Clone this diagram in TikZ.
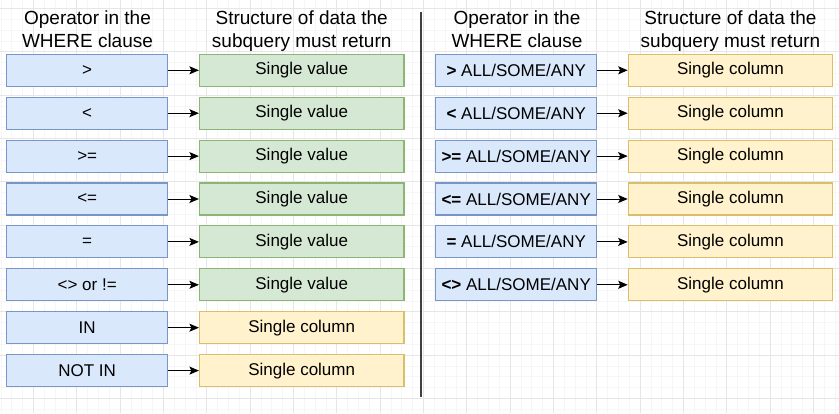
\documentclass[tikz,border=0pt]{standalone}
\usepackage{fontspec}
\setmainfont{Liberation Sans}
\usetikzlibrary{arrows.meta}
\definecolor{opfill}{RGB}{218,232,252}
\definecolor{opline}{RGB}{120,150,200}
\definecolor{valfill}{RGB}{213,232,212}
\definecolor{valline}{RGB}{140,180,115}
\definecolor{colfill}{RGB}{255,242,204}
\definecolor{colline}{RGB}{218,190,105}
\definecolor{gridminor}{RGB}{246,246,246}
\definecolor{gridmajor}{RGB}{230,230,230}
\newcommand{\drawbggrid}{
    \foreach \x in {0,...,77}{
    \draw[gridminor] (\x*10.833+0.8,0)--(\x*10.833+0.8,413);
    }
    \foreach \y in {0,...,38}{
      \draw[gridminor] (0,\y*10.833+8.3)--(839,\y*10.833+8.3);
    }
    \foreach \x in {0,...,19}{
    \draw[gridmajor] (\x*43.333+33.3,0)--(\x*43.333+33.3,413);
    }
    \foreach \y in {0,...,9}{
      \draw[gridmajor] (0,\y*43.333+8.3)--(839,\y*43.333+8.3);
    }
}
\newcommand{\rowy}[1]{70.3+(#1-1)*42.9}

\begin{document}
\begin{tikzpicture}[x=1pt,y=-1pt,
    box/.style={line width=1.1pt, minimum height=32pt, inner sep=0pt, font=\fontsize{17}{20}\selectfont},
    opbox/.style={box, draw=opline, fill=opfill, minimum width=161pt},
    valbox/.style={box, draw=valline, fill=valfill, minimum width=204.5pt},
    colbox/.style={box, draw=colline, fill=colfill, minimum width=204.5pt},
    head/.style={anchor=north, inner sep=0pt, align=center, font=\fontsize{19}{22.4}\selectfont},
    conn/.style={-{Stealth[length=9.5pt,width=8pt,inset=2pt]}, line width=1pt}]
\useasboundingbox (0,0) rectangle (839,413);
\fill[white] (0,0) rectangle (839,413);
\drawbggrid
% left half
\node[head] (lhead) at (87.5,11) {Operator in the\\WHERE clause};
\node[head] (lres) at (301.7,11) {Structure of data the\\subquery must return};
\foreach \opr [count=\i] in {{>},{<},{>=},{<=},{=},{<> or !=}}{
    \node[opbox] (op\i) at (87.2,{\rowy{\i}}) {\opr};
    \node[valbox] (res\i) at (301.7,{\rowy{\i}}) {Single value};
    \draw[conn] (op\i) -- (res\i);
}
\foreach \opr [count=\i from 7] in {{IN},{NOT IN}}{
    \node[opbox] (op\i) at (87.2,{\rowy{\i}}) {\opr};
    \node[colbox] (res\i) at (301.7,{\rowy{\i}}) {Single column};
    \draw[conn] (op\i) -- (res\i);
}
\draw[line width=1.6pt, black!75] (421,11.5)--(421,397);
% right half
\node[head] (rhead) at (517,11) {Operator in the\\WHERE clause};
\node[head] (rres) at (730.5,11) {Structure of data the\\subquery must return};
\foreach \opr [count=\i] in {{>},{<},{>=},{<=},{=},{<>}}{
    \node[opbox] (aop\i) at (516.2,{\rowy{\i}}) {\textbf{\opr} ALL/SOME/ANY};
    \node[colbox] (ares\i) at (730.5,{\rowy{\i}}) {Single column};
    \draw[conn] (aop\i) -- (ares\i);
}
\end{tikzpicture}
\end{document}
